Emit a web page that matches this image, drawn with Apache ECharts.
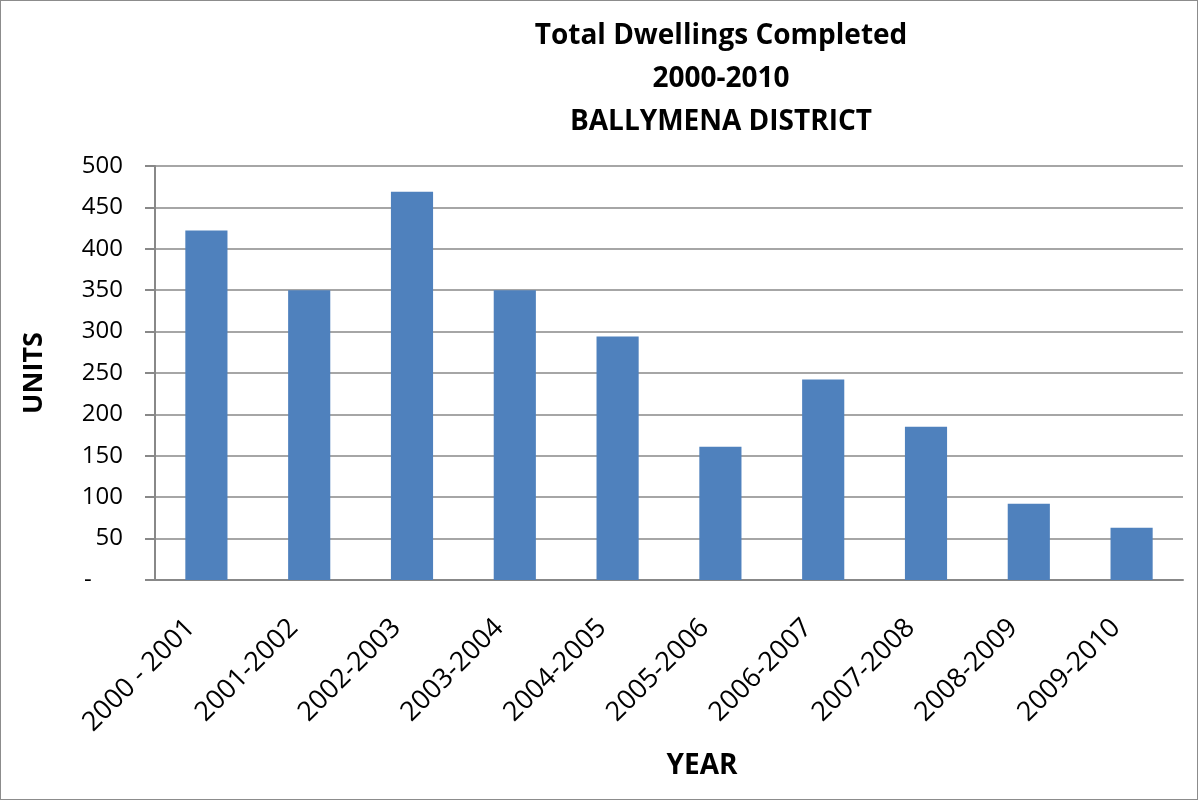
<!DOCTYPE html>
<html>
<head>
<meta charset="utf-8">
<script src="https://cdn.jsdelivr.net/npm/echarts@6/dist/echarts.min.js"></script>
<style>
  html, body { margin: 0; padding: 0; background: #fff; }
  #chart { width: 1198px; height: 800px; box-sizing: border-box; border: 1px solid #8c8c8c; }
</style>
</head>
<body>
<div id="chart"></div>
<script>
// 各年度竣工住宅总数
const years = ['2000 - 2001', '2001-2002', '2002-2003', '2003-2004', '2004-2005',
  '2005-2006', '2006-2007', '2007-2008', '2008-2009', '2009-2010'];
const units = [422, 350, 469, 350, 294, 161, 242, 185, 92, 63];

const FONT = '"Open Sans", "Noto Sans", sans-serif';
const chart = echarts.init(document.getElementById('chart'));

chart.setOption({
  backgroundColor: '#fff',
  animation: false,
  title: {
    text: 'Total Dwellings Completed\n2000-2010\nBALLYMENA DISTRICT',
    left: 715, top: 9, textAlign: 'center',
    textStyle: { fontFamily: FONT, fontSize: 28, fontWeight: 'bold', color: '#000', lineHeight: 43 },
  },
  grid: { left: 154, right: 14, top: 165, bottom: 219 },
  xAxis: {
    type: 'category', data: years,
    name: 'YEAR', nameLocation: 'middle', nameGap: 172,
    nameTextStyle: { fontFamily: FONT, fontSize: 28, fontWeight: 'bold', color: '#000', padding: [0, 0, 0, 66] },
    axisLine: { lineStyle: { color: '#888', width: 2 } },
    axisTick: { length: 10, lineStyle: { color: '#888', width: 2 } },
    axisLabel: { rotate: 45, margin: 28, padding: [0, 22, 0, 0], fontFamily: FONT, fontSize: 27, color: '#000' },
  },
  yAxis: {
    type: 'value', min: 0, max: 500, interval: 50,
    name: 'UNITS', nameLocation: 'middle', nameGap: 107, nameRotate: 90,
    nameTextStyle: { fontFamily: FONT, fontSize: 27, fontWeight: 'bold', color: '#000' },
    axisLine: { show: true, lineStyle: { color: '#888', width: 2 } },
    axisTick: { show: true, length: 10, lineStyle: { color: '#888', width: 2 } },
    splitLine: { lineStyle: { color: '#888', width: 1.5 } },
    axisLabel: {
      margin: 32, fontFamily: FONT, fontSize: 24, color: '#000',
      // 会计格式：0 显示为 "-"，并留出右侧空位
      formatter: v => v === 0 ? '-\u00a0\u00a0\u00a0\u00a0\u00a0' : String(v),
    },
  },
  series: [{
    type: 'bar', data: units, barWidth: '41%',
    itemStyle: { color: '#4f81bd' },
  }],
});
</script>
</body>
</html>
